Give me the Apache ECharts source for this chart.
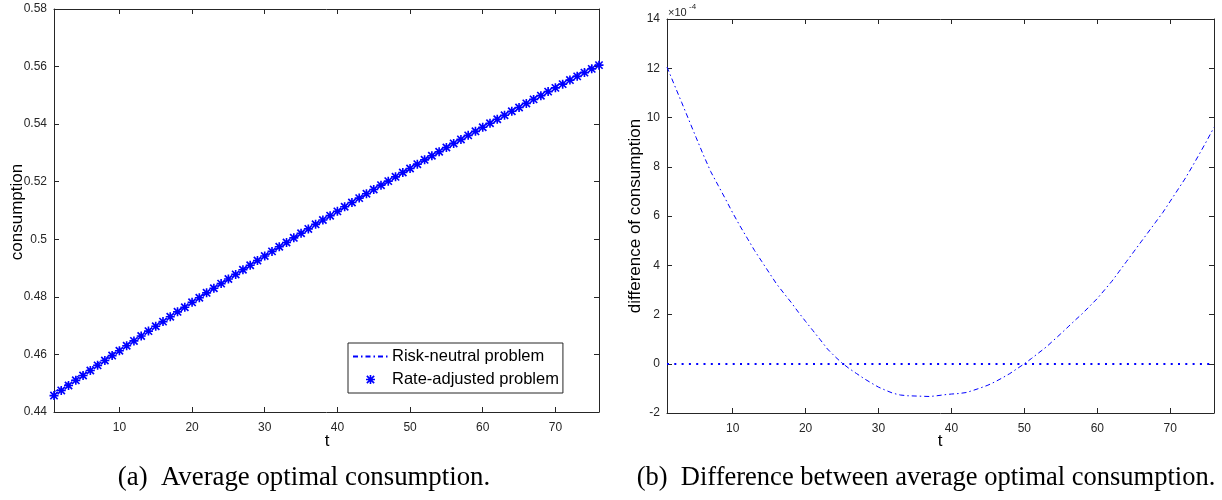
<!DOCTYPE html>
<html>
<head>
<meta charset="utf-8">
<script src="https://cdn.jsdelivr.net/npm/echarts@6/dist/echarts.min.js"></script>
<style>
  html, body { margin: 0; padding: 0; background: #ffffff; }
  #chart { width: 1222px; height: 500px; }
</style>
</head>
<body>
<div id="chart"></div>
<script>
// Time steps
const t = [1,2,3,4,5,6,7,8,9,10,11,12,13,14,15,16,17,18,19,20,
  21,22,23,24,25,26,27,28,29,30,31,32,33,34,35,36,37,38,39,40,
  41,42,43,44,45,46,47,48,49,50,51,52,53,54,55,56,57,58,59,60,
  61,62,63,64,65,66,67,68,69,70,71,72,73,74,75,76];

// Average optimal consumption, rate-adjusted problem
const rateAdjusted = [0.4457,0.4475,0.4492,0.4510,0.4527,0.4544,0.4562,0.4579,0.4596,0.4613,
  0.4630,0.4647,0.4664,0.4681,0.4698,0.4714,0.4731,0.4748,0.4764,0.4781,
  0.4797,0.4814,0.4830,0.4846,0.4862,0.4878,0.4894,0.4910,0.4926,0.4942,
  0.4958,0.4974,0.4989,0.5005,0.5021,0.5036,0.5052,0.5067,0.5082,0.5097,
  0.5113,0.5128,0.5143,0.5158,0.5173,0.5188,0.5202,0.5217,0.5232,0.5246,
  0.5261,0.5276,0.5290,0.5304,0.5319,0.5333,0.5347,0.5361,0.5375,0.5389,
  0.5403,0.5417,0.5431,0.5445,0.5458,0.5472,0.5486,0.5499,0.5513,0.5526,
  0.5539,0.5553,0.5566,0.5579,0.5592,0.5605];

// Difference of consumption (risk-neutral minus rate-adjusted), in units of 1e-4
const diffE4 = [12.05,11.33,10.62,9.90,9.18,8.47,7.80,7.25,6.70,6.13,
  5.60,5.10,4.60,4.15,3.70,3.25,2.87,2.50,2.10,1.72,
  1.35,0.98,0.60,0.30,0.03,-0.20,-0.40,-0.60,-0.78,-0.95,
  -1.08,-1.20,-1.27,-1.30,-1.31,-1.32,-1.33,-1.30,-1.26,-1.23,
  -1.21,-1.17,-1.08,-0.98,-0.87,-0.73,-0.57,-0.40,-0.20,0.00,
  0.22,0.45,0.68,0.95,1.22,1.50,1.78,2.05,2.35,2.65,
  3.00,3.35,3.75,4.15,4.55,4.95,5.35,5.75,6.15,6.60,
  7.05,7.50,8.00,8.52,9.05,9.60];

// Tick labels
const xTicks = [10, 20, 30, 40, 50, 60, 70];
const yTicksLeft = [0.44, 0.46, 0.48, 0.5, 0.52, 0.54, 0.56, 0.58];
const yTicksRight = [-2, 0, 2, 4, 6, 8, 10, 12, 14];

const riskNeutral = rateAdjusted.map((v, i) => v + diffE4[i] * 1e-4);

const AX = '#262626';
const BLUE = '#0000ff';
const SANS = '"Liberation Sans", Arial, Helvetica, sans-serif';
const SERIF = '"Liberation Serif", "Times New Roman", serif';
const DASHDOT = [5, 3, 1.5, 3];
// eight-armed asterisk marker
const ASTERISK = 'path://M0,4.1L10,4.1L10,5.9L0,5.9Z M4.1,0L5.9,0L5.9,10L4.1,10Z M1.6,0.3L9.7,8.4L8.4,9.7L0.3,1.6Z M8.4,0.3L9.7,1.6L1.6,9.7L0.3,8.4Z';

function xAxisPair(gridIndex) {
  const base = {
    type: 'value', gridIndex, min: 1, max: 76,
    axisLine: { show: true, onZero: false, lineStyle: { color: AX, width: 1 } },
    splitLine: { show: false }
  };
  return [
    Object.assign({}, base, {
      position: 'bottom',
      axisTick: { show: true, inside: true, length: 5, customValues: xTicks, lineStyle: { color: AX } },
      axisLabel: { show: true, customValues: xTicks, margin: 10, fontSize: 12, color: AX, fontFamily: SANS }
    }),
    Object.assign({}, base, {
      position: 'top',
      axisTick: { show: true, inside: true, length: 5, customValues: xTicks, lineStyle: { color: AX } },
      axisLabel: { show: false }
    })
  ];
}

function yAxisPair(gridIndex, min, max, ticks) {
  const base = {
    type: 'value', gridIndex, min, max,
    axisLine: { show: true, onZero: false, lineStyle: { color: AX, width: 1 } },
    splitLine: { show: false }
  };
  return [
    Object.assign({}, base, {
      position: 'left',
      axisTick: { show: true, inside: true, length: 5, customValues: ticks, lineStyle: { color: AX } },
      axisLabel: { show: true, customValues: ticks, margin: 7, fontSize: 12, color: AX, fontFamily: SANS }
    }),
    Object.assign({}, base, {
      position: 'right',
      axisTick: { show: true, inside: true, length: 5, customValues: ticks, lineStyle: { color: AX } },
      axisLabel: { show: false }
    })
  ];
}

const chart = echarts.init(document.getElementById('chart'), null, { renderer: 'canvas' });

chart.setOption({
  backgroundColor: '#ffffff',
  animation: false,
  grid: [
    { left: 54, top: 9, width: 545, height: 403 },
    { left: 667, top: 19, width: 547, height: 394 }
  ],
  xAxis: [...xAxisPair(0), ...xAxisPair(1)],
  yAxis: [...yAxisPair(0, 0.44, 0.58, yTicksLeft), ...yAxisPair(1, -2, 14, yTicksRight)],
  legend: {
    left: 348, top: 343,
    orient: 'vertical',
    data: [
      { name: 'Risk-neutral problem', itemStyle: { opacity: 0 } },
      { name: 'Rate-adjusted problem' }
    ],
    backgroundColor: '#ffffff',
    borderColor: AX, borderWidth: 1,
    padding: [5, 4, 5, 4],
    itemWidth: 35, itemHeight: 9, itemGap: 6,
    textStyle: { fontSize: 16.5, color: '#000000', fontFamily: SANS, padding: [0, 0, 0, -1] }
  },
  series: [
    {
      name: 'Risk-neutral problem', type: 'line', xAxisIndex: 0, yAxisIndex: 0,
      data: t.map((x, i) => [x, riskNeutral[i]]),
      symbol: 'none', color: BLUE,
      lineStyle: { color: BLUE, width: 1, type: DASHDOT }
    },
    {
      name: 'Rate-adjusted problem', type: 'scatter', xAxisIndex: 0, yAxisIndex: 0,
      data: t.map((x, i) => [x, rateAdjusted[i]]),
      symbol: ASTERISK, symbolSize: 9, symbolKeepAspect: true, clip: false,
      color: BLUE, itemStyle: { color: BLUE, opacity: 1 }
    },
    {
      name: 'difference', type: 'line', xAxisIndex: 2, yAxisIndex: 2,
      data: t.map((x, i) => [x, diffE4[i]]),
      symbol: 'none', color: BLUE,
      lineStyle: { color: BLUE, width: 1, type: DASHDOT },
      markLine: {
        silent: true, symbol: 'none', label: { show: false },
        lineStyle: { color: BLUE, width: 2, type: [2, 5.3] },
        data: [{ yAxis: 0 }]
      }
    }
  ],
  graphic: [
    { type: 'text', x: 17, y: 212, rotation: Math.PI / 2,
      style: { text: 'consumption', font: '17px ' + SANS, fill: '#000', align: 'center', verticalAlign: 'middle' } },
    { type: 'text', x: 327, y: 441,
      style: { text: 't', font: '17px ' + SANS, fill: '#000', align: 'center', verticalAlign: 'middle' } },
    { type: 'text', x: 635, y: 216, rotation: Math.PI / 2,
      style: { text: 'difference of consumption', font: '17px ' + SANS, fill: '#000', align: 'center', verticalAlign: 'middle' } },
    { type: 'text', x: 940, y: 441,
      style: { text: 't', font: '17px ' + SANS, fill: '#000', align: 'center', verticalAlign: 'middle' } },
    { type: 'text', x: 668, y: 13,
      style: { text: '×10', font: '11px ' + SANS, fill: AX, align: 'left', verticalAlign: 'middle' } },
    { type: 'text', x: 689, y: 7,
      style: { text: '-4', font: '8px ' + SANS, fill: AX, align: 'left', verticalAlign: 'middle' } },
    { type: 'text', x: 304, y: 478,
      style: { text: '(a)  Average optimal consumption.', font: '26.8px ' + SERIF, fill: '#000', align: 'center', verticalAlign: 'middle' } },
    { type: 'text', x: 926, y: 478,
      style: { text: '(b)  Difference between average optimal consumption.', font: '26.5px ' + SERIF, fill: '#000', align: 'center', verticalAlign: 'middle' } }
  ]
});
</script>
</body>
</html>
